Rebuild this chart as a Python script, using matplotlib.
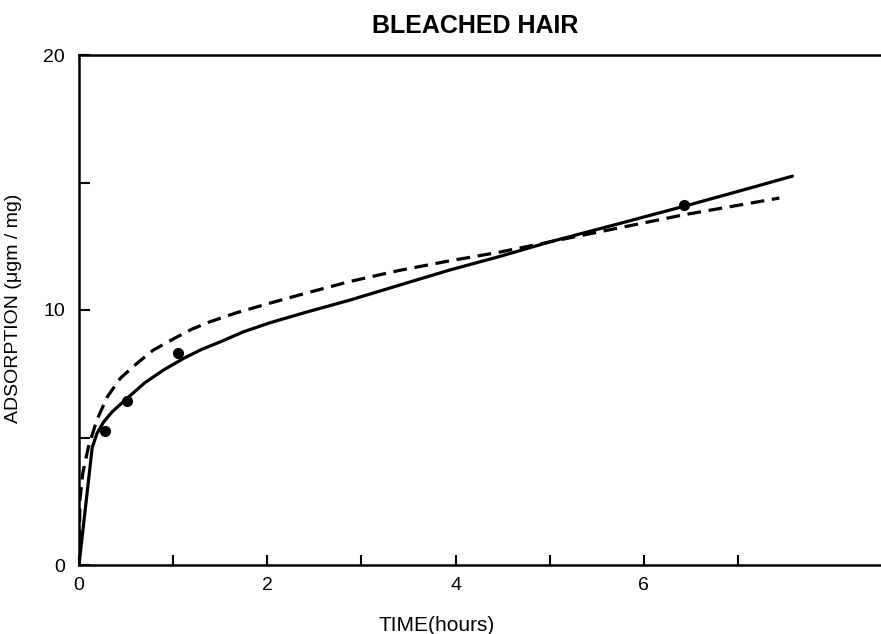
import numpy as np
from matplotlib import pyplot as plt

# measured points (hours, ug/mg)
t_pts = [0.28, 0.51, 1.05, 6.43]
a_pts = [5.25, 6.43, 8.31, 14.1]

# solid fitted curve
t_solid = [0.0, 0.07, 0.14, 0.19, 0.26, 0.35, 0.5, 0.7, 0.9, 1.11, 1.3, 1.5, 1.75, 2.03,
           2.4, 2.88, 3.4, 3.94, 4.47, 5.0, 5.7, 6.44, 7.0, 7.58]
a_solid = [0.0, 2.3, 4.6, 5.15, 5.6, 6.0, 6.5, 7.15, 7.65, 8.1, 8.45, 8.75, 9.15, 9.5,
           9.9, 10.39, 10.97, 11.57, 12.1, 12.67, 13.35, 14.08, 14.65, 15.25]

# dashed fitted curve
t_dash = [0.0, 0.01, 0.04, 0.1, 0.19, 0.3, 0.44, 0.62, 0.79, 1.04, 1.2, 1.4, 1.68, 2.03,
          2.4, 2.88, 3.4, 3.94, 4.47, 5.36, 6.42, 7.44]
a_dash = [0.0, 2.55, 3.6, 4.63, 5.69, 6.59, 7.33, 7.92, 8.43, 8.94, 9.25, 9.55, 9.9, 10.27,
          10.65, 11.12, 11.55, 11.93, 12.27, 12.94, 13.73, 14.39]

x_ticks = [0, 1, 2, 3, 4, 5, 6, 7]
x_labels = ['0', '', '2', '', '4', '', '6', '']
y_ticks = [0, 5, 10, 15, 20]
y_labels = ['0', '', '10', '', '20']

plt.rcParams['font.family'] = ['Liberation Sans', 'DejaVu Sans']

fig = plt.figure(figsize=(8.81, 6.34), dpi=100)
ax = fig.add_axes([79 / 881, 69 / 634, 802 / 881, 510 / 634])

ax.plot(t_solid, a_solid, color='black', lw=2.3, solid_capstyle='round', solid_joinstyle='round')
ax.plot(t_dash, a_dash, color='black', lw=2.3, linestyle=(0, (4.3, 2.4)))
ax.plot(t_pts, a_pts, 'o', color='black', ms=7)

ax.set_xlim(0, 8.52)
ax.set_ylim(0, 20)
ax.set_xticks(x_ticks)
ax.set_xticklabels(x_labels)
ax.set_yticks(y_ticks)
ax.set_yticklabels(y_labels)
ax.tick_params(axis='x', direction='in', length=7, width=1.5, labelsize=14, pad=9)
ax.tick_params(axis='y', direction='in', length=8, width=1.5, labelsize=14, pad=10)

for side in ['left', 'bottom', 'top']:
    ax.spines[side].set_linewidth(1.8)
ax.spines['right'].set_visible(False)

ax.set_title('BLEACHED HAIR', fontsize=18, fontweight='bold', pad=16, x=0.494)
ax.set_xlabel('TIME(hours)', fontsize=15)
ax.xaxis.set_label_coords(0.446, -0.1)
ax.set_ylabel('ADSORPTION (μgm / mg)', fontsize=14)
ax.yaxis.set_label_coords(-0.071, 0.504)

fig.savefig('out.png', dpi=100)
